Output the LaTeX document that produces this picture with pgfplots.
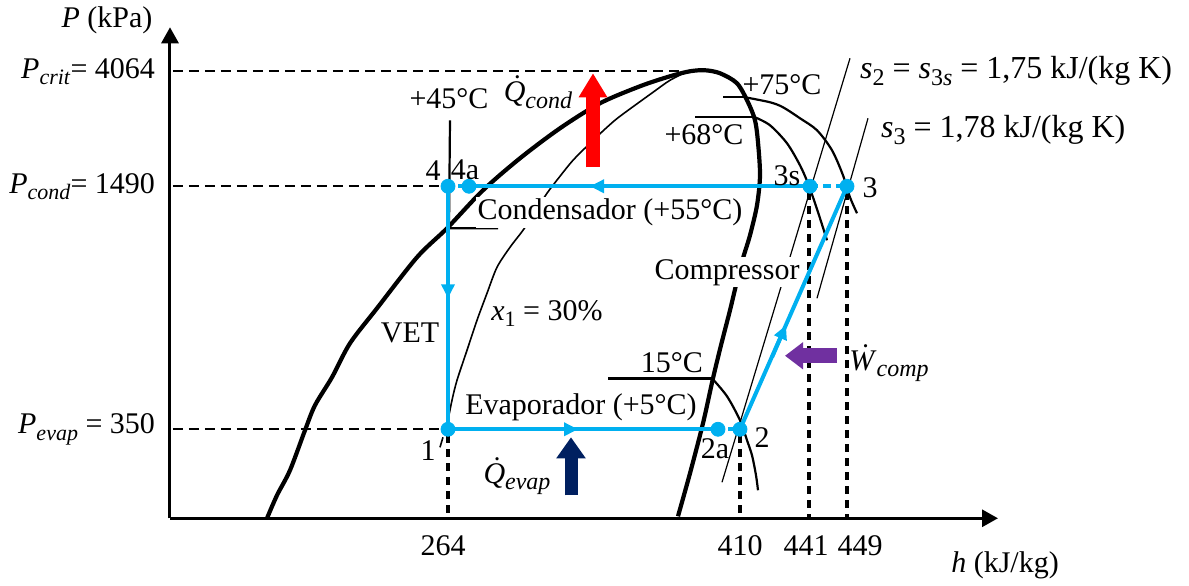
\documentclass[border=0pt]{standalone}
\usepackage{fontspec}
\setmainfont{Liberation Serif}
\usepackage{pgfplots}
\pgfplotsset{compat=1.18}
\usetikzlibrary{arrows.meta}
\definecolor{cyc}{HTML}{00B0F0}
\definecolor{navy}{HTML}{002060}
\definecolor{purp}{HTML}{7030A0}
\newcommand\fs{\fontsize{15}{18}\selectfont}
\newcommand\fsb{\fontsize{16}{19}\selectfont}
\newcommand\sub[2][11]{\raisebox{-0.45ex}{\fontsize{#1}{#1}\selectfont\textit{#2}}}
\newcommand\subr[2][11]{\raisebox{-0.45ex}{\fontsize{#1}{#1}\selectfont #2}}
\newcommand\dotit[1]{\leavevmode\setbox0\hbox{\textit{#1}}\rlap{\hbox to\wd0{\hss\hspace{0.18em}\raisebox{0.2em}{\char"02D9}\hss}}\box0}
\tikzset{every node/.append style={font=\fs}}
\begin{document}
\begin{tikzpicture}
\begin{axis}[
  x=0.5pt, y=0.5pt,
  xmin=170, xmax=998, ymin=62, ymax=553,
  axis lines=left,
  axis line style={line width=1.5pt, -{Triangle[length=8pt,width=8.5pt]}},
  clip=false,
  xtick={443,740,806,860},
  xticklabels={264,410,441,449},
  ytick={509,394,151},
  yticklabels={{\textit{P}\sub{crit}= 4064},{\textit{P}\sub{cond}= 1490},{\textit{P}\sub{evap} = 350}},
  major tick length=0pt,
  tick style={draw=none},
  tick label style={font=\fs},
  xticklabel style={yshift=-5pt},
  yticklabel style={xshift=-4pt},
]
% bounding box
\addplot[draw=none] coordinates {(0,0) (1189,580)};
% dashed guide lines
\addplot[black, line width=1.2pt, dash pattern=on 5pt off 3pt] coordinates {(173,509) (690,509)};
\addplot[black, line width=1.2pt, dash pattern=on 5pt off 3pt] coordinates {(173,394) (440,394)};
\addplot[black, line width=1.2pt, dash pattern=on 5pt off 3pt] coordinates {(173,151) (440,151)};
\addplot[black, line width=1.7pt, dash pattern=on 4pt off 3pt] coordinates {(448,145) (448,63)};
\addplot[black, line width=1.7pt, dash pattern=on 4pt off 3pt] coordinates {(740,145) (740,63)};
\addplot[black, line width=1.7pt, dash pattern=on 4pt off 3pt] coordinates {(809,388) (809,63)};
\addplot[black, line width=1.7pt, dash pattern=on 4pt off 3pt] coordinates {(847,388) (847,63)};
% saturation dome
\addplot[black, line width=2.1pt, smooth] coordinates {
(267,62) (277,85) (290,110) (305,150) (315,175) (332,203) (350,237) (377,272)
(417,323) (447,352) (483,390) (520,422) (560,452) (600,477) (640,494) (670,504)
(690,509) (705,510) (720,507) (737,497) (748,478) (755,460) (758,438) (760,405)
(757,375) (750,345) (743,322) (736,295) (730,270) (721,235) (713,202) (703,157)
(690,107) (678,64)};
% quality line x = 30%
\addplot[black, line width=0.8pt, smooth] coordinates {
(447,155) (452,180) (457,200) (467,230) (477,260) (487,287) (497,313) (510,333)
(523,350) (535,368) (547,387) (560,404) (573,420) (590,437) (607,453) (620,464)
(653,488) (670,500) (688,509)};
\addplot[black, line width=0.8pt] coordinates {(443,143) (440,133)};
% isotherms
\addplot[black, line width=1.1pt] coordinates {(450,460) (449,352) (498,352)};
\addplot[black, line width=1.1pt, smooth] coordinates {(745,483) (770,478) (783,473) (800,462) (817,450) (832,430) (843,405) (850,383) (857,367)};
\addplot[black, line width=1.1pt] coordinates {(723,483) (745,483)};
\addplot[black, line width=1.1pt, smooth] coordinates {(755,463) (770,455) (787,437) (800,415) (808,397) (813,383) (820,362) (827,340)};
\addplot[black, line width=1.1pt] coordinates {(695,463) (755,463)};
\addplot[black, line width=1.1pt, smooth] coordinates {(712,202) (727,184) (740,160) (747,140) (752,125) (756,105) (758,90)};
\addplot[black, line width=1.6pt] coordinates {(608,202) (712,202)};
% isentropes
\addplot[black, line width=0.6pt] coordinates {(722,98) (850,522)};
\addplot[black, line width=0.6pt] coordinates {(817,282) (868,462)};
% text with white background
\node[fill=white, inner sep=1pt] at (610,368) {Condensador (+55°C)};
\node[fill=white, inner sep=1pt] at (727,308) {Compressor};
\node[fill=white, inner sep=1pt] at (581,173) {Evaporador (+5°C)};
% cycle
\addplot[cyc, line width=2pt] coordinates {(469,394) (810,394)};
\addplot[cyc, line width=2pt, dash pattern=on 4pt off 2.5pt] coordinates {(810,394) (847,394)};
\addplot[cyc, line width=2pt, dash pattern=on 3pt off 2pt] coordinates {(448,394) (469,394)};
\addplot[cyc, line width=2pt] coordinates {(448,394) (448,151)};
\addplot[cyc, line width=2pt] coordinates {(448,151) (718,151)};
\addplot[cyc, line width=2pt, dash pattern=on 3pt off 2pt] coordinates {(718,151) (740,151)};
\addplot[cyc, line width=2pt] coordinates {(740,151) (847,394)};
% direction arrows
\addplot[cyc, line width=2pt, -{Triangle[length=7pt,width=6.5pt]}] coordinates {(625,394) (590,394)};
\addplot[cyc, line width=2pt, -{Triangle[length=7pt,width=6.5pt]}] coordinates {(448,310) (448,282)};
\addplot[cyc, line width=2pt, -{Triangle[length=7pt,width=6.5pt]}] coordinates {(545,151) (578,151)};
\addplot[cyc, line width=2pt, -{Triangle[length=7pt,width=6.5pt]}] coordinates {(772,223) (786,255)};
% state points
\addplot[cyc, only marks, mark=*, mark size=3.5pt] coordinates {(448,394) (469,394) (810,394) (847,394) (448,151) (718,151) (740,151)};
% heat / work arrows
\addplot[red, line width=7pt, -{Triangle[length=12pt,width=13.5pt]}] coordinates {(593,413) (593,507)};
\addplot[navy, line width=6.5pt, -{Triangle[length=10.5pt,width=14pt]}] coordinates {(571,85) (571,143)};
\addplot[purp, line width=7.5pt, -{Triangle[length=9pt,width=13pt]}] coordinates {(837,224.5) (785,224.5)};
% labels
\node at (107,560) {\textit{P} (kPa)};
\node at (1005,15) {\textit{h} (kJ/kg)};
\node at (449,482) {+45°C};
\node at (538,488) {\dotit{Q}\sub[12]{cond}};
\node at (782,496) {+75°C};
\node at (704,446) {+68°C};
\node at (433,410) {4};
\node at (465,410) {4a};
\node at (787,405) {3s};
\node at (870,393) {3};
\node[anchor=west, font=\fsb] at (853,509) {\textit{s}\subr[12]{2}~=~\textit{s}\subr[12]{3\textit{s}}~=~1,75 kJ/(kg K)};
\node[anchor=west, font=\fsb] at (874,450) {\textit{s}\subr[12]{3}~=~1,78 kJ/(kg K)};
\node at (547,267) {\textit{x}\subr{1} = 30\%};
\node at (410,247) {VET};
\node at (672,218) {15°C};
\node at (428,130) {1};
\node at (715,132) {2a};
\node at (762,143) {2};
\node at (517,104) {\dotit{Q}\sub[12]{evap}};
\node at (889,217) {\dotit{W}\sub[12]{comp}};
\end{axis}
\end{tikzpicture}
\end{document}
